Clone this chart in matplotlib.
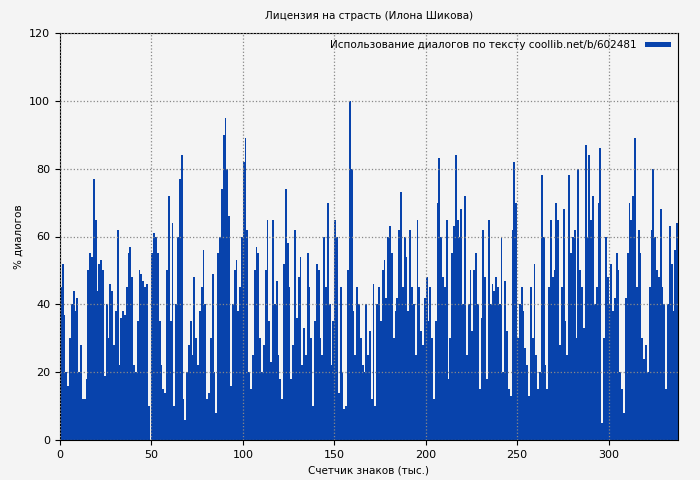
import matplotlib
matplotlib.use("Agg")
import matplotlib.pyplot as plt
import numpy as np

values = [
45,52,37,20,16,30,40,44,38,42, 20,28,12,12,18,50,55,54,77,65,
44,52,53,50,19,40,30,46,44,28, 38,62,22,36,38,37,45,55,57,48,
22,20,35,50,49,47,45,46,10,0, 55,61,60,55,35,22,15,14,50,72,
35,64,10,40,60,77,84,12,6,20, 28,35,25,48,30,22,38,45,56,40,
12,14,30,49,20,8,55,60,74,90, 95,80,66,16,40,50,53,38,45,60,
82,89,62,20,15,25,50,57,55,30, 20,28,50,65,35,23,65,40,47,25,
18,12,52,74,58,45,18,28,62,36, 48,54,22,33,25,55,45,30,10,35,
52,50,30,25,60,45,70,40,22,35, 65,60,14,45,20,9,10,50,100,80,
38,25,45,40,30,22,20,40,25,32, 12,46,10,40,45,35,50,53,42,60,
63,55,30,38,42,62,73,45,60,54, 38,62,45,40,25,65,45,32,28,42,
48,35,45,30,12,35,70,83,60,48, 45,65,18,30,55,63,84,65,60,68,
40,72,25,40,50,32,50,55,40,15, 36,62,48,18,65,40,46,44,48,45,
40,60,20,47,32,15,13,62,82,70, 30,40,45,38,27,22,13,45,30,52,
25,15,20,78,60,22,15,45,65,48, 50,70,65,28,45,68,35,25,78,55,
60,62,30,80,50,45,33,87,60,84, 65,72,40,45,70,86,5,30,60,48,
40,52,38,42,55,50,20,15,8,42, 55,70,65,72,89,45,62,55,30,24,
28,20,45,62,80,60,50,48,68,45, 40,15,40,63,52,38,56,64,
]
x = np.arange(len(values))

fig = plt.figure(figsize=(7,4.8), dpi=100, facecolor='#f4f4f4')
ax = fig.add_axes([60/700, 40/480, 618/700, 407/480])
ax.set_facecolor('#f4f4f4')
ax.bar(x, values, width=1.0, color='#0843ac', align='edge', linewidth=0, label='Использование диалогов по тексту coollib.net/b/602481')
ax.set_xlim(0, 338)
ax.set_ylim(0, 120)
ax.set_xticks([0,50,100,150,200,250,300])
ax.set_yticks(range(0,121,20))
ax.grid(True, color='#888888', linestyle=':', linewidth=0.9)
ax.set_axisbelow(False)
ax.tick_params(labelsize=8)
ax.set_xlabel('Счетчик знаков (тыс.)', fontsize=7.5)
ax.set_ylabel('% диалогов', fontsize=7.5)
ax.set_title('Лицензия на страсть (Илона Шикова)', fontsize=7.5, pad=10)
leg = ax.legend(loc='upper right', fontsize=7.5, frameon=False, handlelength=2.5, handleheight=0.3,
                markerfirst=False, borderaxespad=0.3)
fig.savefig('out.png', dpi=100, facecolor=fig.get_facecolor())
